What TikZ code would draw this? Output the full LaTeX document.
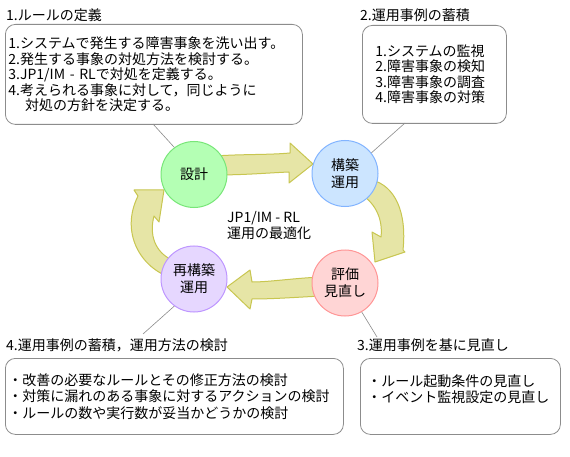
\documentclass[tikz,border=0pt]{standalone}
\usepackage{fontspec}
\setmainfont{Noto Sans CJK JP}
\usepackage{xcolor}
\usepackage{tikz}
\usetikzlibrary{arrows.meta,positioning,shapes.geometric}

\definecolor{memoline}{RGB}{140,140,140}
\definecolor{flowfill}{RGB}{230,229,166}
\definecolor{flowline}{RGB}{200,198,80}
\definecolor{greenfill}{RGB}{180,255,180}
\definecolor{greenline}{RGB}{120,230,120}
\definecolor{bluefill}{RGB}{204,229,255}
\definecolor{blueline}{RGB}{130,180,255}
\definecolor{redfill}{RGB}{255,213,213}
\definecolor{redline}{RGB}{255,150,150}
\definecolor{violetfill}{RGB}{230,215,255}
\definecolor{violetline}{RGB}{190,150,255}

\begin{document}
\begin{tikzpicture}[
      x=1pt, y=-1pt,
      font=\fontsize{14}{15.5}\selectfont,
      memo/.style={draw=memoline, rounded corners=10pt, anchor=north west, align=left, inner ysep=0pt, line width=0.8pt},
      caption/.style={inner sep=0pt},
      phase/.style={circle, minimum size=66pt, inner sep=0pt, line width=1pt, align=center, font=\fontsize{14}{17}\selectfont},
      flow/.style={fill=flowfill, draw=flowline, line width=1pt, line join=round},
      tail/.style={draw=memoline, line width=0.6pt},
    ]
    \path[fill=white, use as bounding box] (0,0) rectangle (570,457);

    \node[memo, inner xsep=3pt, text width=291pt, minimum height=100pt] (memo1) at (5,24)
      {1.システムで発生する障害事象を洗い出す。\\2.発生する事象の対処方法を検討する。\\3.JP1/IM - RLで対処を定義する。\\4.考えられる事象に対して，同じように\\\hspace*{1.2em}対処の方針を決定する。};
    \node[memo, inner xsep=13pt, text width=118pt, minimum height=98pt] (memo2) at (362,25)
      {1.システムの監視\\2.障害事象の検知\\3.障害事象の調査\\4.障害事象の対策};
    \node[memo, inner xsep=3pt, text width=332pt, minimum height=76pt, font=\fontsize{14}{16.5}\selectfont] (memo4) at (5,358)
      {・改善の必要なルールとその修正方法の検討\\・対策に漏れのある事象に対するアクションの検討\\・ルールの数や実行数が妥当かどうかの検討};
    \node[memo, inner xsep=7pt, text width=186pt, minimum height=76pt] (memo3) at (360,358)
      {・ルール起動条件の見直し\\・イベント監視設定の見直し\\\mbox{}};

    \node[caption, above right=2pt and 1pt of memo1.north west] (title1) {1.ルールの定義};
    \node[caption, above right=3pt and -2pt of memo2.north west] (title2) {2.運用事例の蓄積};
    \node[caption, above right=6pt and 1pt of memo4.north west] (title4) {4.運用事例の蓄積，運用方法の検討};
    \node[caption, above right=6pt and -3pt of memo3.north west] (title3) {3.運用事例を基に見直し};

    \path[flow] (214,156) .. controls (245,154) and (268,155) .. (290,153) -- (290,143) -- (313,164) -- (289,183) -- (289,172) .. controls (266,173) and (245,175) .. (214,175) -- cycle;
    \path[flow] (372,180) .. controls (395,186) and (407,212) .. (403,250) -- (405,252) -- (375,262) -- (372,232) -- (381,237) .. controls (383,220) and (376,204) .. (362,195) -- cycle;
    \path[flow] (322,277) .. controls (295,278) and (270,282) .. (252,282) -- (250,270) -- (227,287) -- (250,309) -- (252,299) .. controls (275,299) and (300,297) .. (322,296) -- cycle;
    \path[flow] (172,278) .. controls (140,268) and (120,232) .. (138,196) -- (134,190) -- (164,190) -- (159,222) -- (154,216) .. controls (149,235) and (155,252) .. (172,260) -- cycle;

    \node[phase, fill=greenfill, draw=greenline] (sekkei) at (194,174.5) {設計};
    \node[phase, fill=bluefill, draw=blueline] (kochiku) at (345,173.5) {構築\\運用};
    \node[phase, fill=redfill, draw=redline] (hyoka) at (345,283) {評価\\見直し};
    \node[phase, fill=violetfill, draw=violetline] (saikochiku) at (194,279) {再構築\\運用};

    \node[caption, align=left, anchor=west] (goal) at (227,225.5) {JP1/IM - RL\\運用の最適化};

    \coordinate (tip1) at (153,124);
    \coordinate (tip2) at (405,123);
    \coordinate (tip4) at (143,334);
    \coordinate (tip3) at (377,337);
    \draw[tail] (tip1) -- (sekkei.126);
    \draw[tail] (tip2) -- (kochiku.38);
    \draw[tail] (tip4) -- (saikochiku.234);
    \draw[tail] (tip3) -- (hyoka.300);
  \end{tikzpicture}
\end{document}
